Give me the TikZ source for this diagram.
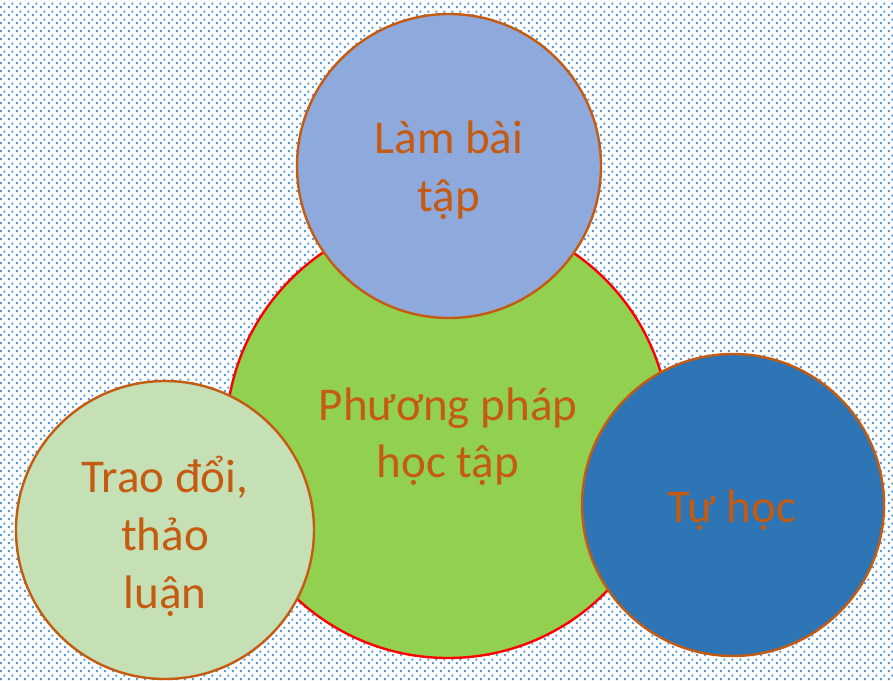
\documentclass[tikz,border=0pt]{standalone}
\usepackage{fontspec}
\setmainfont{Carlito}
\usetikzlibrary{patterns}
\definecolor{dotblue}{HTML}{5B9BD5}
\definecolor{txtorange}{HTML}{C55A11}
\definecolor{cgreen}{HTML}{92D050}
\definecolor{ctop}{HTML}{8EA9DB}
\definecolor{cright}{HTML}{2E75B6}
\definecolor{cleft}{HTML}{C5E0B4}
\pgfdeclarepatternformonly{dotlattice}{\pgfqpoint{0pt}{0pt}}{\pgfqpoint{8pt}{8pt}}{\pgfqpoint{8pt}{8pt}}{%
  \pgfpathrectangle{\pgfqpoint{1pt}{1pt}}{\pgfqpoint{2.2pt}{2.2pt}}%
  \pgfpathrectangle{\pgfqpoint{5pt}{5pt}}{\pgfqpoint{2.2pt}{2.2pt}}%
  \pgfusepath{fill}}
\tikzset{
  bubble/.style={circle, draw=txtorange, line width=2.4pt, inner sep=0pt},
  lbl/.style={anchor=base, inner sep=0pt, text=txtorange, font=\fontsize{47}{57}\selectfont}
}
\begin{document}
\begin{tikzpicture}[x=1pt,y=-1pt]
\useasboundingbox (0,0) rectangle (893,680);
\fill[white] (0,0) rectangle (893,680);
\fill[pattern=dotlattice, pattern color=dotblue] (0,0) rectangle (893,680);
% central circle
\node[circle, draw=red, line width=2.4pt, fill=cgreen, minimum size=444pt, inner sep=0pt] (center) at (448,436) {};
% satellites
\node[bubble, fill=cleft, minimum size=298pt] (left) at (165,530) {};
\node[bubble, fill=ctop, minimum size=304pt] (top) at (449,166) {};
\node[bubble, fill=cright, minimum size=302pt] (right) at (733,505) {};
% texts
\node[lbl] (t1) at (449,153) {Làm bài};
\node[lbl] (t2) at (449,211) {tập};
\node[lbl] (c1) at (448,420) {Phương pháp};
\node[lbl] (c2) at (448,477) {học tập};
\node[lbl] (l1) at (165,492) {Trao đổi,};
\node[lbl] (l2) at (165,550) {thảo};
\node[lbl] (l3) at (165,608) {luận};
\node[lbl] (r1) at (732,522) {Tự học};
\end{tikzpicture}
\end{document}
